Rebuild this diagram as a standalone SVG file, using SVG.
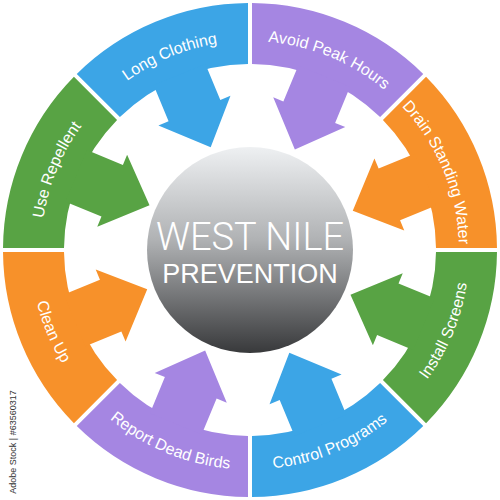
<svg xmlns="http://www.w3.org/2000/svg" xmlns:xlink="http://www.w3.org/1999/xlink" width="500" height="500" viewBox="0 0 500 500">
<style>
.lbl{font-family:"Liberation Sans",Arial,sans-serif;font-size:16px;fill:#ffffff}
.title{font-family:Roboto,"Liberation Sans",Arial,sans-serif;font-weight:300;fill:#ffffff;text-anchor:middle}
.sub{font-family:"Liberation Sans",Arial,sans-serif;fill:#ffffff;text-anchor:middle}
.blue{fill:#3ca5e6}.purple{fill:#a586e2}.orange{fill:#f7912a}.green{fill:#58a344}
</style>
<defs>
<path id="sector" d="M 228.96 -92.67 A 247 247 0 0 1 228.96 92.67 L 172.60 69.33 A 186 186 0 0 0 172.60 -69.33 Z"/>
<path id="arrow" d="M 189 -26 L 150 -26 L 150 -37 L 110 3 L 150 41 L 150 30 L 189 30 Z"/>
<path id="arcUp" d="M 181 -104.5 A 209 209 0 0 1 181 104.5"/>
<path id="arcDown" d="M 190.09 109.75 A 219.5 219.5 0 0 0 190.09 -109.75"/>
<linearGradient id="sphere" x1="0" y1="0" x2="0" y2="1">
<stop offset="0" stop-color="#eef0f2"/>
<stop offset="0.45" stop-color="#b0b2b4"/>
<stop offset="1" stop-color="#38393b"/>
</linearGradient>
</defs>
<rect width="500" height="500" fill="#ffffff"/>
<g id="connectors"></g>
<g id="long-clothing" class="blue" transform="translate(250 250) rotate(-112.5)">
<use href="#sector"/><use href="#arrow"/>
<text class="lbl"><textPath href="#arcUp" startOffset="50%" text-anchor="middle">Long Clothing</textPath></text>
</g>
<g id="avoid-peak-hours" class="purple" transform="translate(250 250) rotate(-67.5)">
<use href="#sector"/><use href="#arrow"/>
<text class="lbl"><textPath href="#arcUp" startOffset="50%" text-anchor="middle">Avoid Peak Hours</textPath></text>
</g>
<g id="drain-standing-water" class="orange" transform="translate(250 250) rotate(-22.5)">
<use href="#sector"/><use href="#arrow"/>
<text class="lbl"><textPath href="#arcUp" startOffset="50%" text-anchor="middle">Drain Standing Water</textPath></text>
</g>
<g id="install-screens" class="green" transform="translate(250 250) rotate(22.5)">
<use href="#sector"/><use href="#arrow"/>
<text class="lbl"><textPath href="#arcDown" startOffset="50%" text-anchor="middle">Install Screens</textPath></text>
</g>
<g id="control-programs" class="blue" transform="translate(250 250) rotate(67.5)">
<use href="#sector"/><use href="#arrow"/>
<text class="lbl"><textPath href="#arcDown" startOffset="50%" text-anchor="middle">Control Programs</textPath></text>
</g>
<g id="report-dead-birds" class="purple" transform="translate(250 250) rotate(112.5)">
<use href="#sector"/><use href="#arrow"/>
<text class="lbl"><textPath href="#arcDown" startOffset="50%" text-anchor="middle">Report Dead Birds</textPath></text>
</g>
<g id="clean-up" class="orange" transform="translate(250 250) rotate(157.5)">
<use href="#sector"/><use href="#arrow"/>
<text class="lbl"><textPath href="#arcDown" startOffset="50%" text-anchor="middle">Clean Up</textPath></text>
</g>
<g id="use-repellent" class="green" transform="translate(250 250) rotate(-157.5)">
<use href="#sector"/><use href="#arrow"/>
<text class="lbl"><textPath href="#arcUp" startOffset="50%" text-anchor="middle">Use Repellent</textPath></text>
</g>
<g id="center">
<circle cx="250" cy="250" r="103" fill="url(#sphere)"/>
<text class="title" x="250" y="250" font-size="38">WEST NILE</text>
<text class="sub" x="250" y="283" font-size="27">PREVENTION</text>
</g>
<text x="16" y="442" transform="rotate(-90 16 442)" text-anchor="middle" font-family="'Liberation Sans',Arial,sans-serif" font-size="9" fill="#333333">Adobe Stock | #63560317</text>
</svg>
